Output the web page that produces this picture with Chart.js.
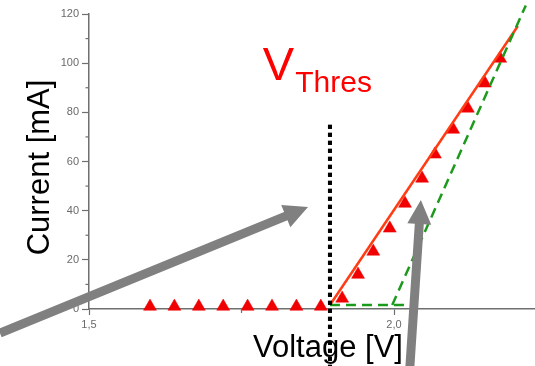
<!DOCTYPE html>
<html><head><meta charset="utf-8">
<script src="https://cdn.jsdelivr.net/npm/chart.js@4/dist/chart.umd.min.js"></script>
<style>html,body{margin:0;padding:0;background:#fff;overflow:hidden}canvas{display:block}</style>
</head><body>
<canvas id="c" width="535" height="366"></canvas>
<script>
// ---- data ----
const X_TICKS = [1.5, 2.0];
const X_MINOR = [1.75];
const Y_TICKS = [0, 20, 40, 60, 80, 100, 120];
const Y_MINOR = [10, 30, 50, 70, 90, 110];

const baseVoltage = [1.60, 1.64, 1.68, 1.72, 1.76, 1.80, 1.84, 1.88];
const baseCurrent = [1, 1, 1, 1, 1, 1, 1, 1];
const rampVoltage = [1.915, 1.941, 1.966, 1.993, 2.018, 2.046, 2.067, 2.097, 2.121, 2.149, 2.174];
const rampCurrent = [4.3, 14, 23.4, 32.8, 42.9, 53.1, 62.9, 73, 81.6, 91.8, 101.9];

const fitVoltage = [1.895, 2.203];
const fitCurrent = [1.6, 115.1];
const kneeVoltage = [1.895, 2.021];
const kneeCurrent = [1.6, 1.6];
const slopeVoltage = [1.997, 2.216];
const slopeCurrent = [1.6, 123.5];
const thresVoltage = [1.895, 1.895];
const thresCurrent = [74.9, -23.5];

const arrowTail = [[1.354, -9.8], [2.026, -23.5]];
const arrowTip = [[1.859, 41.5], [2.044, 44.3]];
const thresLabelAt = [1.785, 93.3];
const thresSubAt = [1.838, 88.3];

const X_MIN = 1.5, X_MAX = 2.2311, Y_MIN = 0, Y_MAX = 120;

const xy = (xs, ys) => xs.map((x, i) => ({x: x, y: ys[i]}));
const FONT = "'Liberation Sans', Arial, sans-serif";
const AXIS = '#6f6f6f';

const overlay = {
  id: 'overlay',
  afterDraw(chart) {
    const ctx = chart.ctx, xs = chart.scales.x, ys = chart.scales.y;
    const px = v => xs.getPixelForValue(v), py = v => ys.getPixelForValue(v);
    ctx.save();
    // minor ticks
    ctx.strokeStyle = AXIS; ctx.lineWidth = 1.2;
    Y_MINOR.forEach(v => { const y = py(v); ctx.beginPath(); ctx.moveTo(xs.left - 3.5, y); ctx.lineTo(xs.left, y); ctx.stroke(); });
    X_MINOR.forEach(v => { const x = px(v); ctx.beginPath(); ctx.moveTo(x, ys.bottom); ctx.lineTo(x, ys.bottom + 4); ctx.stroke(); });
    // axis titles
    ctx.fillStyle = '#000';
    ctx.font = '31px ' + FONT;
    ctx.textBaseline = 'alphabetic';
    ctx.textAlign = 'left';
    ctx.fillText('Voltage [V]', 253, 357);
    ctx.save();
    ctx.translate(49, 167.5);
    ctx.rotate(-Math.PI / 2);
    ctx.textAlign = 'center';
    ctx.fillText('Current [mA]', 0, 0);
    ctx.restore();
    // threshold dotted line redraw over the title text
    ctx.save();
    ctx.strokeStyle = '#000'; ctx.lineWidth = 4; ctx.setLineDash([4, 4]);
    ctx.beginPath(); ctx.moveTo(px(thresVoltage[0]), py(thresCurrent[0])); ctx.lineTo(px(thresVoltage[1]), py(thresCurrent[1])); ctx.stroke();
    ctx.restore();
    // V_Thres label
    ctx.fillStyle = '#ff0000';
    ctx.textAlign = 'left';
    ctx.font = '47px ' + FONT;
    ctx.fillText('V', px(thresLabelAt[0]), py(thresLabelAt[1]));
    ctx.font = '30px ' + FONT;
    ctx.fillText('Thres', px(thresSubAt[0]), py(thresSubAt[1]));
    // arrows
    ctx.fillStyle = '#808080';
    for (let i = 0; i < arrowTail.length; i++) {
      const x0 = px(arrowTail[i][0]), y0 = py(arrowTail[i][1]);
      const x1 = px(arrowTip[i][0]), y1 = py(arrowTip[i][1]);
      const dx = x1 - x0, dy = y1 - y0, len = Math.hypot(dx, dy);
      const ux = dx / len, uy = dy / len, nx = -uy, ny = ux;
      const w = 9, L = 24, H = 24;
      const bx = x1 - ux * L, by = y1 - uy * L;
      ctx.beginPath();
      ctx.moveTo(x0 + nx * w / 2, y0 + ny * w / 2);
      ctx.lineTo(bx + nx * w / 2, by + ny * w / 2);
      ctx.lineTo(bx + nx * H / 2, by + ny * H / 2);
      ctx.lineTo(x1, y1);
      ctx.lineTo(bx - nx * H / 2, by - ny * H / 2);
      ctx.lineTo(bx - nx * w / 2, by - ny * w / 2);
      ctx.lineTo(x0 - nx * w / 2, y0 - ny * w / 2);
      ctx.closePath();
      ctx.fill();
    }
    ctx.restore();
  }
};

const lineDs = (data, color, width, dash, order) => ({
  data: data, showLine: true, borderColor: color, borderWidth: width, borderDash: dash,
  pointRadius: 0, pointHoverRadius: 0, fill: false, clip: false, order: order, tension: 0
});

new Chart(document.getElementById('c'), {
  type: 'scatter',
  data: {
    datasets: [
      lineDs(xy(thresVoltage, thresCurrent), '#000000', 4, [4, 4], 1),
      lineDs(xy(slopeVoltage, slopeCurrent), '#1c9a1c', 2.5, [10, 6], 2),
      lineDs(xy(kneeVoltage, kneeCurrent), '#1c9a1c', 2.5, [10, 6], 2),
      lineDs(xy(fitVoltage, fitCurrent), '#ff3c14', 2.5, [], 3),
      {
        data: xy(baseVoltage.concat(rampVoltage), baseCurrent.concat(rampCurrent)),
        showLine: false, pointStyle: 'triangle', pointRadius: 7.5, pointHoverRadius: 7.5,
        backgroundColor: '#f00000', borderColor: '#f00000', borderWidth: 0.5, order: 4, clip: false
      }
    ]
  },
  options: {
    responsive: false, animation: false, devicePixelRatio: 1,
    layout: {autoPadding: false, padding: {top: 14, right: 0, bottom: 0, left: 0}},
    plugins: {legend: {display: false}, tooltip: {enabled: false}},
    scales: {
      x: {
        type: 'linear', min: X_MIN, max: X_MAX,
        afterBuildTicks: s => { s.ticks = X_TICKS.map(v => ({value: v})); },
        afterFit: s => { s.height = 57; s.paddingLeft = 0; s.paddingRight = 0; },
        grid: {display: true, drawOnChartArea: false, drawTicks: true, tickLength: 6, tickColor: AXIS, tickWidth: 1.2},
        border: {display: true, color: AXIS, width: 1.5},
        ticks: {color: '#6a6a6a', font: {family: FONT, size: 11}, padding: 3, maxRotation: 0,
          callback: v => v.toFixed(1).replace('.', ',')}
      },
      y: {
        type: 'linear', min: Y_MIN, max: Y_MAX,
        afterBuildTicks: s => { s.ticks = Y_TICKS.map(v => ({value: v})); },
        afterFit: s => { s.width = 89; s.paddingTop = 0; s.paddingBottom = 0; },
        grid: {display: true, drawOnChartArea: false, drawTicks: true, tickLength: 7, tickColor: AXIS, tickWidth: 1.2},
        border: {display: true, color: AXIS, width: 1.5},
        ticks: {color: '#6a6a6a', font: {family: FONT, size: 11}, padding: 3}
      }
    }
  },
  plugins: [overlay]
});
</script>
</body></html>
